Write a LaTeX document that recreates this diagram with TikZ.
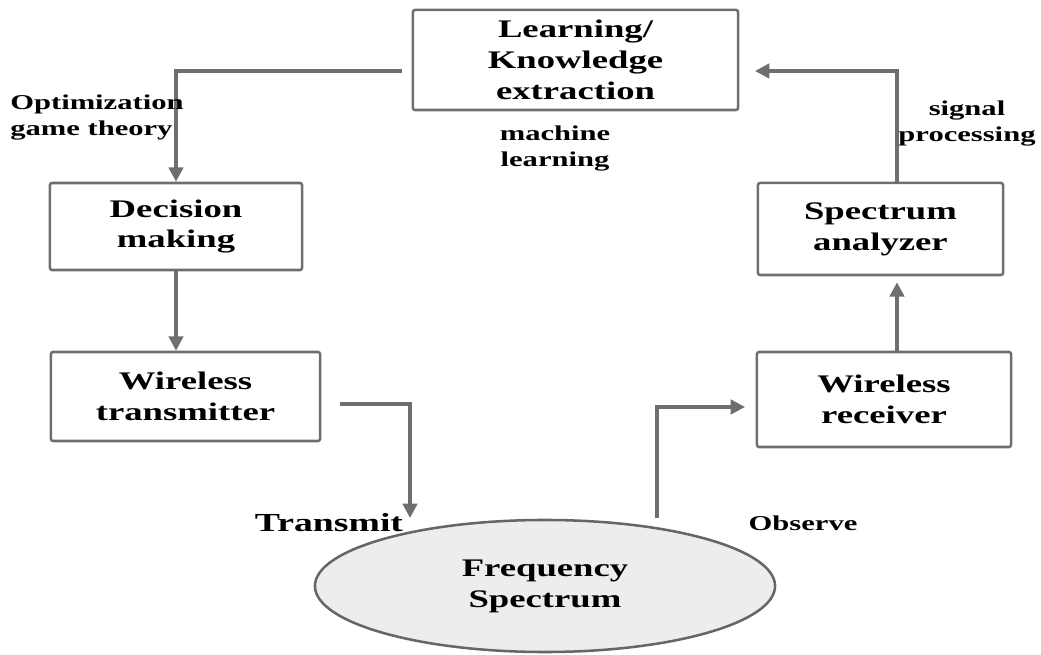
\documentclass[tikz,border=0pt]{standalone}
\usepackage{fontspec}
\setmainfont{Liberation Serif}[FakeStretch=1.45]
\usetikzlibrary{arrows.meta,shapes.geometric}
\definecolor{boxgray}{HTML}{6E6E6E}
\definecolor{fillgray}{HTML}{EDEDED}

\begin{document}
\begin{tikzpicture}[x=0.025cm, y=-0.025cm,
    block/.style={draw=boxgray, line width=1.8pt, rounded corners=1.5pt,
        align=center, inner sep=0pt, font=\fontsize{18}{22}\selectfont\bfseries},
    tag/.style={inner sep=0pt, font=\fontsize{15}{18.5}\selectfont\bfseries},
    flow/.style={draw=boxgray, line width=2.4pt,
        -{Triangle[width=0.36cm,length=0.36cm]}}]
    \useasboundingbox (0,0) rectangle (1041,655);

    % boxes of the cycle
    \node[block, minimum width=8.125cm, minimum height=2.5cm] (learn) at (575.5,60)
        {Learning/\\Knowledge\\extraction};
    \node[block, minimum width=6.3cm, minimum height=2.175cm] (decide) at (176,226.5)
        {Decision\\making};
    \node[block, minimum width=6.725cm, minimum height=2.225cm] (transmitter) at (185.5,396.5)
        {Wireless\\transmitter};
    \node[block, minimum width=6.125cm, minimum height=2.3cm] (analyzer) at (880.5,229)
        {Spectrum\\analyzer};
    \node[block, minimum width=6.35cm, minimum height=2.375cm] (receiver) at (884,399.5)
        {Wireless\\receiver};
    \node[block, ellipse, draw=black!60, fill=fillgray, minimum width=11.5cm,
        minimum height=3.3cm] (spectrum) at (545,586) {Frequency\\Spectrum};

    % free ends of the connectors
    \coordinate (outL) at (402,71);
    \coordinate (inR) at (755,71);
    \coordinate (up) at (897,300);
    \coordinate (txs) at (340,404);
    \coordinate (txe) at (410,518);
    \coordinate (obs) at (657,518);
    \coordinate (obe) at (745,407);

    % connectors
    \draw[flow] (outL) -| (decide.north);
    \draw[flow] (decide.south) -- (decide.south |- transmitter.north);
    \draw[flow] (txs) -| (txe);
    \draw[flow] (obs) |- (obe);
    \draw[flow, shorten >=0.15cm] (receiver.north -| up) -- (analyzer.south -| up);
    \draw[flow] (analyzer.north -| up) |- (inR);

    % labels
    \node[tag, align=left, anchor=west] (opt) at (10,118)
        {Optimization\\game theory};
    \node[tag, align=center] (ml) at (555,149) {machine\\learning};
    \node[tag, align=center] (sp) at (967,124) {signal\\processing};
    \node[tag, font=\fontsize{18.5}{22}\selectfont\bfseries] (tx) at (329,523) {Transmit};
    \node[tag] (obsv) at (803,523) {Observe};
\end{tikzpicture}
\end{document}
